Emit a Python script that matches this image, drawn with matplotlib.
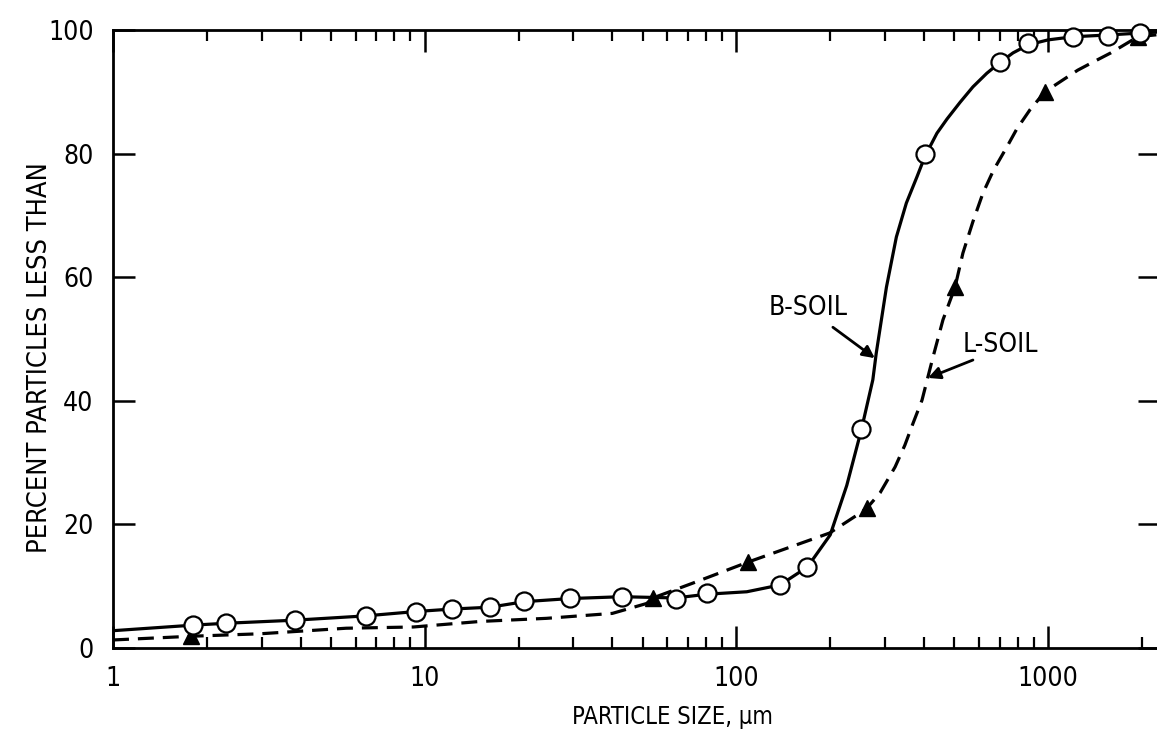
import matplotlib
matplotlib.use("Agg")
import matplotlib.pyplot as plt
from matplotlib.ticker import FixedLocator, NullFormatter, FixedFormatter

plt.rcParams['font.family'] = ['DejaVu Sans']
plt.rcParams['font.stretch'] = 'condensed'

# ---- data ----
b_pts_x = [1.81, 2.30, 3.83, 6.48, 9.37, 12.2, 16.2, 20.9, 29.2, 42.9, 63.8, 80.3,
           138, 169, 252, 403, 703, 864, 1200, 1560, 1970]
b_pts_y = [3.7, 4.0, 4.5, 5.2, 5.9, 6.3, 6.6, 7.6, 8.1, 8.3, 7.9, 8.9,
           10.2, 13.1, 35.4, 80.0, 94.8, 97.9, 98.9, 99.0, 99.5]

b_line_x = [1, 1.81, 2.3, 3.83, 6.48, 9.37, 12.2, 16.2, 20.9, 29.2, 42.9, 63.8, 80.3,
            108, 138, 169, 200, 226, 252, 274, 281, 303, 326, 351, 380, 403, 440, 474,
            522, 574, 636, 703, 772, 864, 1000, 1200, 1560, 1970, 2300]
b_line_y = [2.8, 3.7, 4.0, 4.5, 5.2, 5.9, 6.3, 6.6, 7.5, 8.0, 8.3, 8.1, 8.7,
            9.1, 10.2, 13.1, 18.3, 26.3, 35.4, 43.4, 47.7, 58.4, 66.5, 72.0, 76.3, 79.6, 83.3, 85.6,
            88.3, 90.8, 93.0, 94.8, 96.3, 97.6, 98.4, 98.9, 99.2, 99.5, 99.7]

l_pts_x = [1.78, 54, 109, 263, 503, 977, 1940]
l_pts_y = [1.9, 8.1, 13.9, 22.7, 58.4, 90.0, 98.9]

l_line_x = [1, 1.78, 2.96, 5.6, 9.2, 15.1, 24.6, 40, 51.5, 54, 72.5, 109, 156, 199,
            249, 263, 289, 323, 347, 369, 394, 427, 460, 503, 533, 574, 618, 668, 738,
            794, 875, 977, 1245, 1393, 1590, 1940, 2300]
l_line_y = [1.3, 1.9, 2.3, 3.2, 3.4, 4.3, 4.8, 5.6, 7.2, 8.1, 10.5, 13.9, 16.7, 18.6,
            21.8, 22.7, 25.1, 29.3, 32.8, 36.4, 40.1, 47.0, 53.1, 58.4, 63.9, 69.0, 73.6, 77.3, 81.1,
            84.0, 87.1, 90.0, 93.5, 94.8, 96.3, 98.9, 99.3]

x_major = [1, 10, 100, 1000]
x_major_labels = ['1', '10', '100', '1000']
x_minor = [m * d for d in (1, 10, 100, 1000) for m in (2, 3, 4, 5, 6, 7, 8, 9)]
y_ticks = [0, 20, 40, 60, 80, 100]

# ---- figure ----
W, H = 1157, 741
fig = plt.figure(figsize=(W / 100, H / 100), dpi=100)
ax = fig.add_axes([113 / W, 1 - 648 / H, (1160 - 113) / W, (648 - 30) / H])
ax.set_xscale('log')
ax.set_xlim(1, 2286)
ax.set_ylim(0, 100)

lw = 2.3
ax.plot(b_line_x, b_line_y, color='black', lw=lw, solid_capstyle='round',
        solid_joinstyle='round', zorder=2)
ax.plot(l_line_x, l_line_y, color='black', lw=lw, linestyle=(0, (5, 2.8)), zorder=2)
ax.plot(b_pts_x, b_pts_y, linestyle='none', marker='o', markersize=13,
        markerfacecolor='white', markeredgecolor='black', markeredgewidth=1.6,
        zorder=4, clip_on=False)
ax.plot(l_pts_x, l_pts_y, linestyle='none', marker='^', markersize=12,
        color='black', zorder=3, clip_on=False)

for s in ax.spines.values():
    s.set_linewidth(2.0)

ax.xaxis.set_major_locator(FixedLocator(x_major))
ax.xaxis.set_major_formatter(FixedFormatter(x_major_labels))
ax.xaxis.set_minor_locator(FixedLocator(x_minor))
ax.xaxis.set_minor_formatter(NullFormatter())
ax.set_yticks(y_ticks)
ax.set_yticklabels([str(v) for v in y_ticks])

ax.tick_params(axis='x', which='major', direction='in', length=16, width=1.8,
               top=True, bottom=True, labelsize=19, pad=13)
ax.tick_params(axis='x', which='minor', direction='in', length=8, width=1.6,
               top=True, bottom=True)
ax.tick_params(axis='y', which='major', direction='in', length=16, width=1.8,
               left=True, right=True, labelsize=19, pad=14)

ax.set_xlabel('PARTICLE SIZE, \u00b5m', fontsize=17)
ax.xaxis.set_label_coords((672 - 113) / 1047, -(717 - 648) / 618)
ax.xaxis.label.set_va('center')
ax.set_ylabel('PERCENT PARTICLES LESS THAN', fontsize=19.5)
ax.yaxis.set_label_coords((40 - 113) / 1047, (648 - 358) / 618)
ax.yaxis.label.set_va('center')

arrow_kw = dict(arrowstyle='-|>', color='black', lw=2, mutation_scale=18,
                shrinkA=0, shrinkB=0)
ax.text(170, 55.0, 'B-SOIL', fontsize=19, ha='center', va='center')
ax.annotate('', xy=(278, 46.9), xytext=(204, 51.9), arrowprops=arrow_kw)
ax.text(701, 49.0, 'L-SOIL', fontsize=19, ha='center', va='center')
ax.annotate('', xy=(412, 43.7), xytext=(574, 46.6), arrowprops=arrow_kw)

fig.savefig('out.png', dpi=100)
